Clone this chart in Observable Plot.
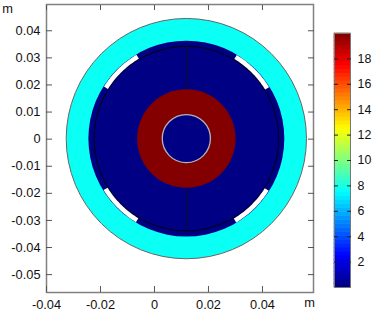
<!DOCTYPE html>
<html><head><meta charset="utf-8">
<script src="https://cdn.jsdelivr.net/npm/d3@7"></script>
<script src="https://cdn.jsdelivr.net/npm/@observablehq/plot@0.6"></script>
<style>html,body{margin:0;padding:0;background:#fff}#c{position:relative;width:372px;height:311px;overflow:hidden}#c svg{position:absolute;left:0;top:0;background:transparent}</style>
</head><body><div id="c"></div>
<script>
const xTicks=[-0.04,-0.02,0,0.02,0.04];
const yTicks=[0.04,0.03,0.02,0.01,0,-0.01,-0.02,-0.03,-0.04,-0.05];
const barTicks=[2,4,6,8,10,12,14,16,18];
const centerX=0.0118, centerY=0.0002;
const ringRadii=[0.0444,0.0362,0.0182,0.0089];
const ringValues=[7.7,0.1,19.9,0.1];
const ringStrokes=["#666","none","none","#b4b4b4"];
const ringWidths=[1,0,0,1.3];
const thinRadius=0.0341, slotRadius=0.0352;
const slotCentersDeg=[45.5,134.5,225.5,314.5];
const slotHalfDeg=13.7;
const dividerY=[[0.0341,0.0182],[-0.0182,-0.0341]];
const jetStops=[0,2.5,7.5,12.5,17.5,20];
const jetColors=["#00007f","#0000ff","#00ffff","#ffff00","#ff0000","#7f0000"];
const barSteps=d3.range(0,20,0.3125);

const colorScale={type:"linear",domain:jetStops,range:jetColors,interpolate:"rgb"};
const fmt=d=>String(d);
const font="Liberation Sans, Arial, sans-serif";
const fs=12.8;
const rings=ringRadii.map((r,i)=>({r,v:ringValues[i],s:ringStrokes[i],w:ringWidths[i],x:centerX,y:centerY}));
const arcPts=(c,rad)=>d3.range(c-slotHalfDeg,c+slotHalfDeg+0.01,1).map(a=>({x:centerX+rad*Math.cos(a*Math.PI/180),y:centerY+rad*Math.sin(a*Math.PI/180),c}));
const slotPts=slotCentersDeg.flatMap(c=>arcPts(c,slotRadius));

const main=Plot.plot({width:372,height:311,marginLeft:46,marginRight:59,marginTop:4,marginBottom:19,
 style:{fontFamily:font,color:"#111",background:"transparent"},
 x:{domain:[-0.04,0.0589],label:null},y:{domain:[-0.0566,0.0497],label:null},
 r:{type:"linear",domain:[0,0.05],range:[0,135.3]},color:colorScale,
 marks:[
  Plot.dot(rings,{x:"x",y:"y",r:"r",fill:"v",stroke:"s",strokeWidth:"w",sort:null}),
  Plot.dot([{x:centerX,y:centerY,r:thinRadius}],{x:"x",y:"y",r:"r",stroke:"#000",strokeWidth:0.9,fill:"none"}),
  Plot.line(slotPts,{x:"x",y:"y",z:"c",stroke:"#fff",strokeWidth:4.6,curve:"linear",strokeLinecap:"butt"}),
  ...dividerY.map(d=>Plot.ruleX([centerX],{y1:d[0],y2:d[1],stroke:"#111",strokeWidth:0.9})),
  Plot.frame({stroke:"#808080",strokeWidth:1.5}),
  Plot.axisX({ticks:xTicks,anchor:"bottom",tickSize:-6,tickFormat:()=>"",stroke:"#555",label:null}),
  Plot.axisX({ticks:xTicks,anchor:"top",tickSize:-5,tickFormat:()=>"",stroke:"#555",label:null}),
  Plot.axisY({ticks:yTicks,anchor:"left",tickSize:-6,tickFormat:()=>"",stroke:"#555",label:null}),
  Plot.axisY({ticks:yTicks,anchor:"right",tickSize:-6,tickFormat:()=>"",stroke:"#555",label:null}),
  Plot.axisX({ticks:xTicks,anchor:"bottom",tickSize:0,tickPadding:7,tickFormat:fmt,label:null,fontSize:fs}),
  Plot.axisY({ticks:yTicks,anchor:"left",tickSize:0,tickPadding:6,tickFormat:fmt,label:null,fontSize:fs}),
  Plot.text(["m"],{frameAnchor:"top-left",dx:-39,dy:-1,text:d=>d,textAnchor:"middle",fontSize:fs}),
  Plot.text(["m"],{frameAnchor:"bottom-right",dx:-4,dy:14,text:d=>d,textAnchor:"middle",fontSize:fs})
 ]});

const bar=Plot.plot({width:372,height:311,marginLeft:334,marginRight:22,marginTop:33,marginBottom:24,
 style:{fontFamily:font,color:"#111",background:"transparent"},
 x:{domain:[0,1],axis:null},y:{domain:[0,20],label:null},color:colorScale,
 marks:[
  Plot.rectY(barSteps,{x1:0,x2:1,y1:d=>d,y2:d=>d+0.3125,fill:d=>d+0.156,inset:-0.3}),
  Plot.frame({stroke:"#777",strokeWidth:1}),
  Plot.axisY({ticks:barTicks,anchor:"left",tickSize:-4,tickFormat:()=>"",stroke:"#222",label:null}),
  Plot.axisY({ticks:barTicks,anchor:"right",tickSize:-4,tickFormat:()=>"",stroke:"#222",label:null}),
  Plot.axisY({ticks:barTicks,anchor:"right",tickSize:0,tickPadding:7,textAnchor:"start",tickFormat:fmt,label:null,fontSize:12.4})
 ]});
document.getElementById("c").append(main,bar);
</script></body></html>
